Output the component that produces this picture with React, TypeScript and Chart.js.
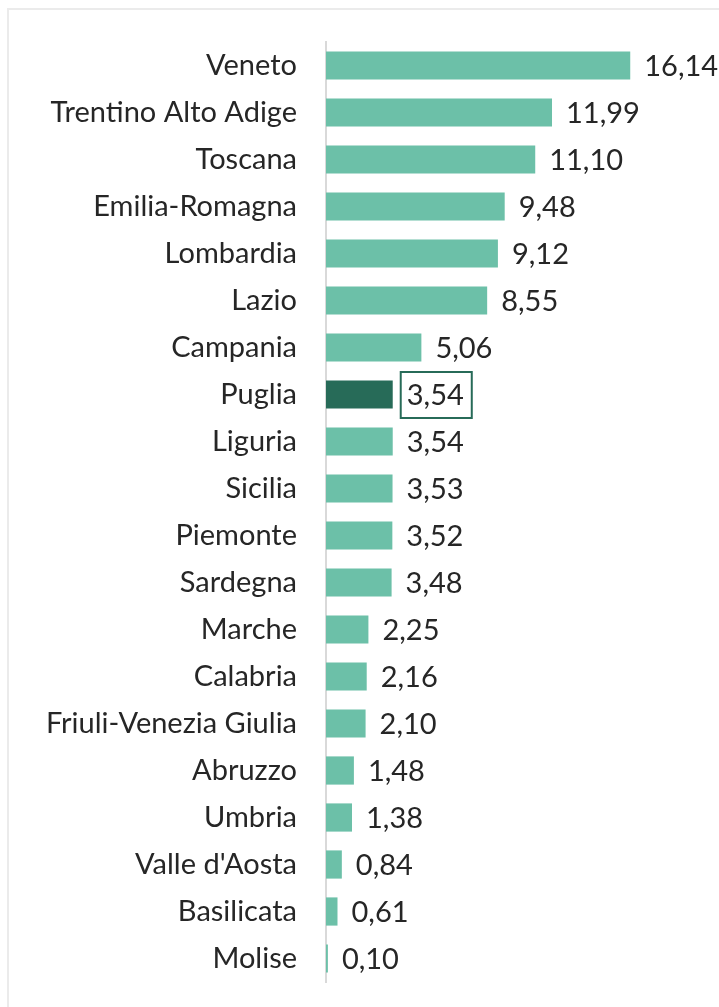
import React, { useEffect, useRef } from "react";
import { Chart, registerables } from "chart.js";

Chart.register(...registerables);

const regions = [
  "Veneto",
  "Trentino Alto Adige",
  "Toscana",
  "Emilia-Romagna",
  "Lombardia",
  "Lazio",
  "Campania",
  "Puglia",
  "Liguria",
  "Sicilia",
  "Piemonte",
  "Sardegna",
  "Marche",
  "Calabria",
  "Friuli-Venezia Giulia",
  "Abruzzo",
  "Umbria",
  "Valle d'Aosta",
  "Basilicata",
  "Molise",
];

const values = [
  16.14, 11.99, 11.1, 9.48, 9.12, 8.55, 5.06, 3.54, 3.54, 3.53, 3.52, 3.48,
  2.25, 2.16, 2.1, 1.48, 1.38, 0.84, 0.61, 0.1,
];

const highlighted = "Puglia";

const BAR_COLOR = "#6cc0a8";
const HIGHLIGHT_COLOR = "#276b58";
const TEXT_COLOR = "#262626";
const FONT_FAMILY = "Lato, 'Open Sans', sans-serif";
const FONT_SIZE = 29;

const fmt = (v: number) => v.toFixed(2).replace(".", ",");

const valueLabels = {
  id: "valueLabels",
  afterDatasetsDraw(chart: any) {
    const { ctx } = chart;
    const meta = chart.getDatasetMeta(0);
    ctx.save();
    ctx.font = `${FONT_SIZE}px ${FONT_FAMILY}`;
    ctx.textBaseline = "middle";
    ctx.textAlign = "left";
    ctx.fillStyle = TEXT_COLOR;
    meta.data.forEach((bar: any, i: number) => {
      const text = fmt(values[i]);
      const x = bar.x + 14;
      const y = bar.y;
      ctx.fillText(text, x, y + 1);
      if (regions[i] === highlighted) {
        const w = ctx.measureText(text).width;
        const step = chart.chartArea.height / regions.length;
        ctx.strokeStyle = HIGHLIGHT_COLOR;
        ctx.lineWidth = 2;
        ctx.strokeRect(x - 6, y - step / 2 + 1, w + 14, step - 1);
      }
    });
    ctx.restore();
  },
};

export default function App() {
  const canvasRef = useRef<HTMLCanvasElement | null>(null);

  useEffect(() => {
    if (!canvasRef.current) return;
    const chart = new Chart(canvasRef.current, {
      type: "bar",
      data: {
        labels: regions,
        datasets: [
          {
            data: values,
            backgroundColor: regions.map((r) =>
              r === highlighted ? HIGHLIGHT_COLOR : BAR_COLOR
            ),
            barPercentage: 0.6,
            categoryPercentage: 1,
          },
        ],
      },
      options: {
        indexAxis: "y",
        animation: false,
        responsive: true,
        maintainAspectRatio: false,
        layout: { padding: { top: 42, bottom: 25, right: 16, left: 0 } },
        plugins: {
          legend: { display: false },
          tooltip: { enabled: false },
          title: { display: false },
        },
        scales: {
          x: {
            display: false,
            min: 0,
            max: 20,
          },
          y: {
            grid: { display: false, drawTicks: true, tickLength: 29 },
            border: { display: true, color: "#d9d9d9", width: 2 },
            ticks: {
              color: TEXT_COLOR,
              font: { family: FONT_FAMILY, size: FONT_SIZE },
              padding: 0,
              autoSkip: false,
            },
            afterFit: (scale: any) => {
              scale.width = 326;
            },
          },
        },
      },
      plugins: [valueLabels],
    });
    return () => chart.destroy();
  }, []);

  return (
    <>
      <div
        style={{
          position: "fixed",
          left: 7,
          top: 8,
          width: 800,
          height: 1100,
          border: "2px solid #ebebeb",
          boxSizing: "border-box",
        }}
      />
      <div style={{ position: "fixed", left: 0, top: 0, width: 719, height: 1007 }}>
        <canvas ref={canvasRef} />
      </div>
    </>
  );
}
